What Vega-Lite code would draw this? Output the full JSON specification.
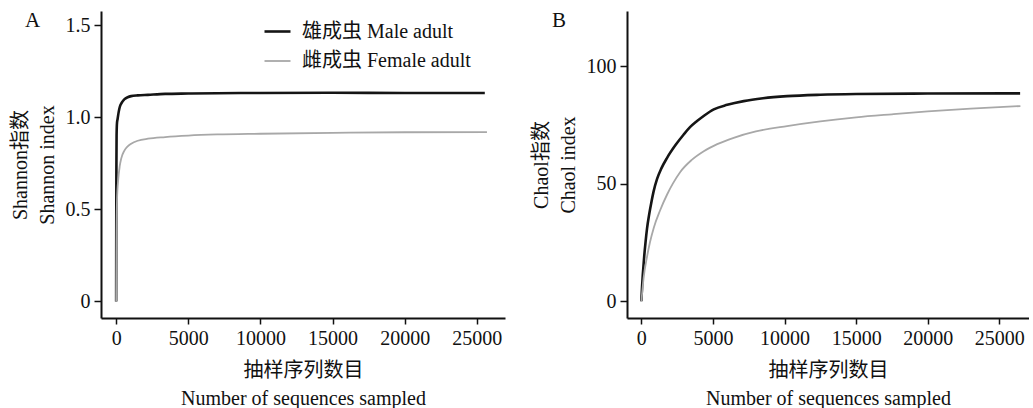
{
  "$schema": "https://vega.github.io/schema/vega-lite/v6.json",
  "background": "white",
  "padding": {"left": 10, "top": 10, "right": 0, "bottom": 0},
  "spacing": 26,
  "config": {
    "font": "'Liberation Serif', 'Noto Sans CJK SC', serif",
    "view": {"stroke": null},
    "axis": {
      "grid": false,
      "domainColor": "#111111",
      "domainWidth": 2,
      "tickColor": "#111111",
      "tickWidth": 1.5,
      "tickSize": 7,
      "labelFont": "'Liberation Serif', 'Noto Sans CJK SC', serif",
      "labelFontSize": 20,
      "labelColor": "#111111",
      "labelPadding": 4,
      "titleFont": "'Liberation Serif', 'Noto Sans CJK SC', serif",
      "titleFontSize": 20,
      "titleFontWeight": "normal",
      "titleColor": "#111111",
      "titleLineHeight": 27
    },
    "legend": {
      "orient": "none",
      "title": null,
      "symbolType": "stroke",
      "symbolSize": 676,
      "labelFont": "'Liberation Serif', 'Noto Sans CJK SC', serif",
      "labelFontSize": 20,
      "labelColor": "#111111",
      "labelOffset": 10,
      "labelLimit": 400,
      "rowPadding": 5,
      "padding": 0
    },
    "title": {
      "font": "'Liberation Serif', serif",
      "fontSize": 21,
      "fontWeight": "normal",
      "color": "#111111",
      "anchor": "start",
      "frame": "group",
      "offset": 0,
      "baseline": "alphabetic"
    }
  },
  "datasets": {
    "rare": [
      {"metric": "Shannon", "group": "雄成虫 Male adult", "n": 0, "value": 0},
      {"metric": "Shannon", "group": "雄成虫 Male adult", "n": 5, "value": 0.3},
      {"metric": "Shannon", "group": "雄成虫 Male adult", "n": 15, "value": 0.7},
      {"metric": "Shannon", "group": "雄成虫 Male adult", "n": 30, "value": 0.9},
      {"metric": "Shannon", "group": "雄成虫 Male adult", "n": 60, "value": 0.97},
      {"metric": "Shannon", "group": "雄成虫 Male adult", "n": 100, "value": 0.99},
      {"metric": "Shannon", "group": "雄成虫 Male adult", "n": 180, "value": 1.03},
      {"metric": "Shannon", "group": "雄成虫 Male adult", "n": 250, "value": 1.055},
      {"metric": "Shannon", "group": "雄成虫 Male adult", "n": 400, "value": 1.08},
      {"metric": "Shannon", "group": "雄成虫 Male adult", "n": 580, "value": 1.098},
      {"metric": "Shannon", "group": "雄成虫 Male adult", "n": 800, "value": 1.108},
      {"metric": "Shannon", "group": "雄成虫 Male adult", "n": 1040, "value": 1.114},
      {"metric": "Shannon", "group": "雄成虫 Male adult", "n": 1500, "value": 1.118},
      {"metric": "Shannon", "group": "雄成虫 Male adult", "n": 2200, "value": 1.121},
      {"metric": "Shannon", "group": "雄成虫 Male adult", "n": 3400, "value": 1.126},
      {"metric": "Shannon", "group": "雄成虫 Male adult", "n": 5000, "value": 1.128},
      {"metric": "Shannon", "group": "雄成虫 Male adult", "n": 7000, "value": 1.13},
      {"metric": "Shannon", "group": "雄成虫 Male adult", "n": 10000, "value": 1.131},
      {"metric": "Shannon", "group": "雄成虫 Male adult", "n": 15000, "value": 1.132},
      {"metric": "Shannon", "group": "雄成虫 Male adult", "n": 20000, "value": 1.131},
      {"metric": "Shannon", "group": "雄成虫 Male adult", "n": 25550, "value": 1.131},
      {"metric": "Shannon", "group": "雌成虫 Female adult", "n": 0, "value": 0},
      {"metric": "Shannon", "group": "雌成虫 Female adult", "n": 20, "value": 0.3},
      {"metric": "Shannon", "group": "雌成虫 Female adult", "n": 60, "value": 0.55},
      {"metric": "Shannon", "group": "雌成虫 Female adult", "n": 150, "value": 0.667},
      {"metric": "Shannon", "group": "雌成虫 Female adult", "n": 250, "value": 0.735},
      {"metric": "Shannon", "group": "雌成虫 Female adult", "n": 350, "value": 0.775},
      {"metric": "Shannon", "group": "雌成虫 Female adult", "n": 580, "value": 0.82},
      {"metric": "Shannon", "group": "雌成虫 Female adult", "n": 800, "value": 0.842},
      {"metric": "Shannon", "group": "雌成虫 Female adult", "n": 1040, "value": 0.856},
      {"metric": "Shannon", "group": "雌成虫 Female adult", "n": 1500, "value": 0.872},
      {"metric": "Shannon", "group": "雌成虫 Female adult", "n": 2200, "value": 0.883},
      {"metric": "Shannon", "group": "雌成虫 Female adult", "n": 3400, "value": 0.892},
      {"metric": "Shannon", "group": "雌成虫 Female adult", "n": 5000, "value": 0.9},
      {"metric": "Shannon", "group": "雌成虫 Female adult", "n": 7000, "value": 0.906},
      {"metric": "Shannon", "group": "雌成虫 Female adult", "n": 10000, "value": 0.91},
      {"metric": "Shannon", "group": "雌成虫 Female adult", "n": 15000, "value": 0.915},
      {"metric": "Shannon", "group": "雌成虫 Female adult", "n": 20000, "value": 0.918},
      {"metric": "Shannon", "group": "雌成虫 Female adult", "n": 25700, "value": 0.919},
      {"metric": "Chao1", "group": "雄成虫 Male adult", "n": 0, "value": 0},
      {"metric": "Chao1", "group": "雄成虫 Male adult", "n": 50, "value": 6},
      {"metric": "Chao1", "group": "雄成虫 Male adult", "n": 100, "value": 11},
      {"metric": "Chao1", "group": "雄成虫 Male adult", "n": 150, "value": 15},
      {"metric": "Chao1", "group": "雄成虫 Male adult", "n": 200, "value": 19},
      {"metric": "Chao1", "group": "雄成虫 Male adult", "n": 300, "value": 25.5},
      {"metric": "Chao1", "group": "雄成虫 Male adult", "n": 400, "value": 31},
      {"metric": "Chao1", "group": "雄成虫 Male adult", "n": 550, "value": 37},
      {"metric": "Chao1", "group": "雄成虫 Male adult", "n": 700, "value": 42},
      {"metric": "Chao1", "group": "雄成虫 Male adult", "n": 850, "value": 46.5},
      {"metric": "Chao1", "group": "雄成虫 Male adult", "n": 1100, "value": 52},
      {"metric": "Chao1", "group": "雄成虫 Male adult", "n": 1400, "value": 56.5},
      {"metric": "Chao1", "group": "雄成虫 Male adult", "n": 1800, "value": 61},
      {"metric": "Chao1", "group": "雄成虫 Male adult", "n": 2400, "value": 66.5},
      {"metric": "Chao1", "group": "雄成虫 Male adult", "n": 2960, "value": 70.9},
      {"metric": "Chao1", "group": "雄成虫 Male adult", "n": 3400, "value": 74},
      {"metric": "Chao1", "group": "雄成虫 Male adult", "n": 3890, "value": 76.6},
      {"metric": "Chao1", "group": "雄成虫 Male adult", "n": 4400, "value": 79},
      {"metric": "Chao1", "group": "雄成虫 Male adult", "n": 5060, "value": 81.6},
      {"metric": "Chao1", "group": "雄成虫 Male adult", "n": 6000, "value": 83.5},
      {"metric": "Chao1", "group": "雄成虫 Male adult", "n": 7150, "value": 85.1},
      {"metric": "Chao1", "group": "雄成虫 Male adult", "n": 8500, "value": 86.3},
      {"metric": "Chao1", "group": "雄成虫 Male adult", "n": 10175, "value": 87.2},
      {"metric": "Chao1", "group": "雄成虫 Male adult", "n": 12500, "value": 87.8},
      {"metric": "Chao1", "group": "雄成虫 Male adult", "n": 15000, "value": 88.1},
      {"metric": "Chao1", "group": "雄成虫 Male adult", "n": 20000, "value": 88.3},
      {"metric": "Chao1", "group": "雄成虫 Male adult", "n": 26450, "value": 88.4},
      {"metric": "Chao1", "group": "雌成虫 Female adult", "n": 0, "value": 0},
      {"metric": "Chao1", "group": "雌成虫 Female adult", "n": 50, "value": 3},
      {"metric": "Chao1", "group": "雌成虫 Female adult", "n": 160, "value": 9.9},
      {"metric": "Chao1", "group": "雌成虫 Female adult", "n": 400, "value": 19},
      {"metric": "Chao1", "group": "雌成虫 Female adult", "n": 600, "value": 25},
      {"metric": "Chao1", "group": "雌成虫 Female adult", "n": 866, "value": 31.2},
      {"metric": "Chao1", "group": "雌成虫 Female adult", "n": 1300, "value": 38.5},
      {"metric": "Chao1", "group": "雌成虫 Female adult", "n": 1800, "value": 45.4},
      {"metric": "Chao1", "group": "雌成虫 Female adult", "n": 2200, "value": 50},
      {"metric": "Chao1", "group": "雌成虫 Female adult", "n": 2720, "value": 55},
      {"metric": "Chao1", "group": "雌成虫 Female adult", "n": 3500, "value": 60},
      {"metric": "Chao1", "group": "雌成虫 Female adult", "n": 4360, "value": 63.8},
      {"metric": "Chao1", "group": "雌成虫 Female adult", "n": 5300, "value": 66.8},
      {"metric": "Chao1", "group": "雌成虫 Female adult", "n": 6450, "value": 69.5},
      {"metric": "Chao1", "group": "雌成虫 Female adult", "n": 8000, "value": 72.2},
      {"metric": "Chao1", "group": "雌成虫 Female adult", "n": 10175, "value": 74.5},
      {"metric": "Chao1", "group": "雌成虫 Female adult", "n": 12500, "value": 76.5},
      {"metric": "Chao1", "group": "雌成虫 Female adult", "n": 15000, "value": 78.2},
      {"metric": "Chao1", "group": "雌成虫 Female adult", "n": 17500, "value": 79.5},
      {"metric": "Chao1", "group": "雌成虫 Female adult", "n": 20000, "value": 80.7},
      {"metric": "Chao1", "group": "雌成虫 Female adult", "n": 23000, "value": 81.9},
      {"metric": "Chao1", "group": "雌成虫 Female adult", "n": 26470, "value": 83}
    ]
  },
  "hconcat": [
    {
      "width": 404,
      "height": 307,
      "title": {"text": "A", "dx": -76, "dy": 24},
      "data": {"name": "rare"},
      "transform": [{"filter": "datum.metric === 'Shannon'"}],
      "mark": {"type": "line", "interpolate": "monotone", "clip": true},
      "encoding": {
        "x": {
          "field": "n", "type": "quantitative",
          "scale": {"domain": [-1050, 26950], "nice": false, "zero": false},
          "axis": {"values": [0, 5000, 10000, 15000, 20000, 25000], "format": "d", "tickSize": 6,
                   "title": ["抽样序列数目", "Number of sequences sampled"], "titleLineHeight": 28, "titlePadding": 12}
        },
        "y": {
          "field": "value", "type": "quantitative",
          "scale": {"domain": [-0.09, 1.576], "nice": false, "zero": false},
          "axis": {"values": [0, 0.5, 1, 1.5], "labelExpr": "datum.value == 0 ? '0' : format(datum.value, '.1f')",
                   "title": ["Shannon指数", "Shannon index"], "titlePadding": 8}
        },
        "color": {
          "field": "group", "type": "nominal",
          "scale": {"domain": ["雄成虫 Male adult", "雌成虫 Female adult"], "range": ["#151515", "#a8a8a8"]},
          "legend": {"legendX": 162, "legendY": 6}
        },
        "strokeWidth": {
          "field": "group", "type": "nominal",
          "scale": {"domain": ["雄成虫 Male adult", "雌成虫 Female adult"], "range": [2.6, 1.8]},
          "legend": {"legendX": 162, "legendY": 6}
        }
      }
    },
    {
      "width": 402,
      "height": 307,
      "title": {"text": "B", "dx": -75, "dy": 24},
      "data": {"name": "rare"},
      "transform": [{"filter": "datum.metric === 'Chao1'"}],
      "mark": {"type": "line", "interpolate": "monotone", "clip": true},
      "encoding": {
        "x": {
          "field": "n", "type": "quantitative",
          "scale": {"domain": [-1000, 27070], "nice": false, "zero": false},
          "axis": {"values": [0, 5000, 10000, 15000, 20000, 25000], "format": "d", "tickSize": 6,
                   "title": ["抽样序列数目", "Number of sequences sampled"], "titleLineHeight": 28, "titlePadding": 12}
        },
        "y": {
          "field": "value", "type": "quantitative",
          "scale": {"domain": [-7.1, 123.4], "nice": false, "zero": false},
          "axis": {"values": [0, 50, 100], "format": "d",
                   "title": ["Chaol指数", "Chaol index"], "titlePadding": 8}
        },
        "color": {
          "field": "group", "type": "nominal",
          "scale": {"domain": ["雄成虫 Male adult", "雌成虫 Female adult"], "range": ["#151515", "#a8a8a8"]},
          "legend": {"legendX": 173, "legendY": 6}
        },
        "strokeWidth": {
          "field": "group", "type": "nominal",
          "scale": {"domain": ["雄成虫 Male adult", "雌成虫 Female adult"], "range": [2.6, 1.6]},
          "legend": {"legendX": 173, "legendY": 6}
        }
      }
    }
  ]
}
